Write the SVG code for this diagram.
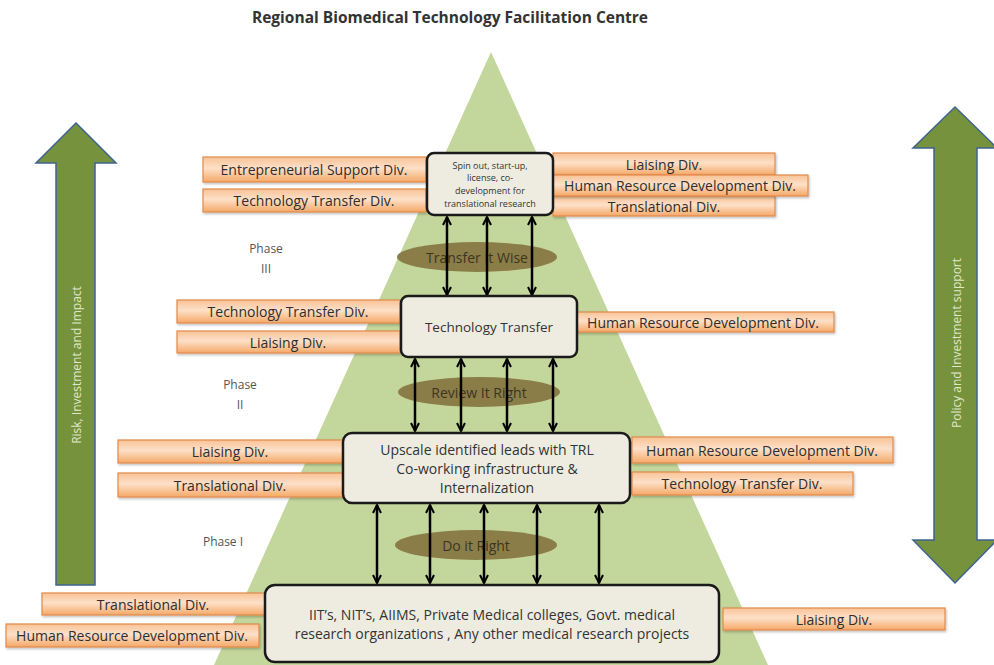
<svg xmlns="http://www.w3.org/2000/svg" width="994" height="665" viewBox="0 0 994 665">
<defs>
<linearGradient id="lbl" x1="0" y1="0" x2="0" y2="1">
<stop offset="0" stop-color="#f9c296"/>
<stop offset="0.45" stop-color="#fde0c8"/>
<stop offset="1" stop-color="#f5a867"/>
</linearGradient>
<filter id="sh" x="-5%" y="-20%" width="110%" height="150%">
<feDropShadow dx="1" dy="1.5" stdDeviation="1" flood-color="#000" flood-opacity="0.25"/>
</filter>
<marker id="ah" viewBox="0 0 10 10" refX="9" refY="5" markerWidth="10" markerHeight="10" markerUnits="userSpaceOnUse" orient="auto-start-reverse">
<path d="M1,1 L9,5 L1,9" fill="none" stroke="#000" stroke-width="2"/>
</marker>
</defs>
<style>
.lbl rect{fill:url(#lbl);stroke:#e08a4c;stroke-width:1.2;filter:url(#sh)}
.lbl text{font-family:"Open Sans","Liberation Sans",sans-serif;font-size:14px;fill:#2e2e2e;text-anchor:middle;dominant-baseline:central}
.box rect{fill:#eeece1;stroke:#1a1a1a;stroke-width:2.5}
.box text{font-family:"Open Sans","Liberation Sans",sans-serif;fill:#333;text-anchor:middle;dominant-baseline:central}
.ov ellipse{fill:#8b7d48}
.ov text{font-family:"Open Sans","Liberation Sans",sans-serif;font-size:14px;fill:#3b3522;text-anchor:middle;dominant-baseline:central}
.ph{font-family:"Open Sans","Liberation Sans",sans-serif;font-size:12px;fill:#555;text-anchor:middle;dominant-baseline:central}
.bar{fill:#76923c;stroke:#3f6490;stroke-width:1.5}
.bt{font-family:"Open Sans","Liberation Sans",sans-serif;font-size:12px;fill:#dfe8c8;text-anchor:middle;dominant-baseline:central}
.con line{stroke:#000;stroke-width:2.5;marker-start:url(#ah);marker-end:url(#ah)}
</style>
<rect width="994" height="665" fill="#fff"/>
<text x="450" y="17" font-family="'Open Sans','Liberation Sans',sans-serif" font-size="15.5" font-weight="bold" fill="#333" text-anchor="middle" dominant-baseline="central">Regional Biomedical Technology Facilitation Centre</text>
<polygon id="pyramid" points="491,52 768,665 214,665" fill="#c3d69b"/>
<g id="arrow-left">
<polygon class="bar" points="76,123 116,163 95,163 95,585 56,585 56,163 36,163"/>
<text class="bt" transform="translate(76,365) rotate(-90)">Risk, Investment and Impact</text>
</g>
<g id="arrow-right">
<polygon class="bar" points="955,107 997,148 977,148 977,540 997,540 955,583 913,540 934,540 934,148 913,148"/>
<text class="bt" transform="translate(956,343) rotate(-90)">Policy and Investment support</text>
</g>
<text class="ph" x="266" y="248">Phase</text>
<text class="ph" x="266" y="268">III</text>
<text class="ph" x="240" y="384">Phase</text>
<text class="ph" x="240" y="404">II</text>
<text class="ph" x="223" y="541">Phase I</text>
<g id="labels">
<g class="lbl" id="l1"><rect x="203" y="157" width="223" height="25"/><text x="314" y="169.5">Entrepreneurial Support Div.</text></g>
<g class="lbl" id="l2"><rect x="203" y="189" width="223" height="23"/><text x="314" y="200.5">Technology Transfer Div.</text></g>
<g class="lbl" id="l3"><rect x="553" y="153" width="222" height="22"/><text x="664" y="164">Liaising  Div.</text></g>
<g class="lbl" id="l5"><rect x="553" y="196" width="222" height="20"/><text x="664" y="206">Translational Div.</text></g>
<g class="lbl" id="l4"><rect x="553" y="175" width="255" height="21"/><text x="680" y="185.5">Human Resource Development  Div.</text></g>
<g class="lbl" id="l6"><rect x="177" y="300" width="223" height="23"/><text x="288" y="311.5">Technology Transfer Div.</text></g>
<g class="lbl" id="l7"><rect x="177" y="331" width="223" height="22"/><text x="288" y="342">Liaising  Div.</text></g>
<g class="lbl" id="l8"><rect x="573" y="312" width="261" height="20"/><text x="703" y="322">Human Resource Development  Div.</text></g>
<g class="lbl" id="l9"><rect x="118" y="440" width="225" height="23"/><text x="230" y="451.5">Liaising  Div.</text></g>
<g class="lbl" id="l10"><rect x="118" y="473" width="225" height="24"/><text x="230" y="485">Translational Div.</text></g>
<g class="lbl" id="l11"><rect x="632" y="437" width="261" height="26"/><text x="762" y="450">Human Resource Development  Div.</text></g>
<g class="lbl" id="l12"><rect x="632" y="472" width="221" height="23"/><text x="742" y="483.5">Technology Transfer Div.</text></g>
<g class="lbl" id="l13"><rect x="42" y="593" width="223" height="22"/><text x="153" y="604">Translational Div.</text></g>
<g class="lbl" id="l14"><rect x="6" y="624" width="253" height="23"/><text x="132" y="635.5">Human Resource Development  Div.</text></g>
<g class="lbl" id="l15"><rect x="723" y="608" width="222" height="22"/><text x="834" y="619">Liaising  Div.</text></g>
</g>
<g id="ovals">
<g class="ov" id="o1"><ellipse cx="477" cy="257" rx="80" ry="15"/><text x="477" y="257">Transfer It Wise</text></g>
<g class="ov" id="o2"><ellipse cx="479" cy="392" rx="81" ry="15"/><text x="479" y="392">Review It Right</text></g>
<g class="ov" id="o3"><ellipse cx="476" cy="545" rx="81" ry="15"/><text x="476" y="545">Do it Right</text></g>
</g>
<g id="connectors" class="con">
<line x1="447" y1="217" x2="447" y2="295"/>
<line x1="487" y1="217" x2="487" y2="295"/>
<line x1="532" y1="217" x2="532" y2="295"/>
<line x1="415" y1="359" x2="415" y2="431"/>
<line x1="461" y1="359" x2="461" y2="431"/>
<line x1="507" y1="359" x2="507" y2="431"/>
<line x1="553" y1="359" x2="553" y2="431"/>
<line x1="377" y1="505" x2="377" y2="583"/>
<line x1="430" y1="505" x2="430" y2="583"/>
<line x1="484" y1="505" x2="484" y2="583"/>
<line x1="537" y1="505" x2="537" y2="583"/>
<line x1="599" y1="505" x2="599" y2="583"/>
</g>
<g class="box" id="n-spinout">
<rect x="427" y="153" width="126" height="62" rx="7"/>
<text x="490" y="165" font-size="9">Spin out, start-up,</text>
<text x="490" y="177" font-size="9">license, co-</text>
<text x="490" y="190" font-size="9">development for</text>
<text x="490" y="203" font-size="9">translational research</text>
</g>
<g class="box" id="n-techtransfer">
<rect x="401" y="296" width="176" height="61" rx="7"/>
<text x="489" y="327" font-size="13.5">Technology Transfer</text>
</g>
<g class="box" id="n-upscale">
<rect x="343" y="433" width="287" height="70" rx="9"/>
<text x="487" y="449" font-size="14">Upscale identified leads with TRL</text>
<text x="487" y="468" font-size="14">Co-working infrastructure &amp;</text>
<text x="487" y="487" font-size="14">Internalization</text>
</g>
<g class="box" id="n-institutions">
<rect x="265" y="585" width="454" height="77" rx="10"/>
<text x="492" y="614" font-size="14">IIT’s, NIT’s, AIIMS, Private Medical colleges, Govt. medical</text>
<text x="492" y="633" font-size="14">research organizations , Any other medical research projects</text>
</g>
</svg>
